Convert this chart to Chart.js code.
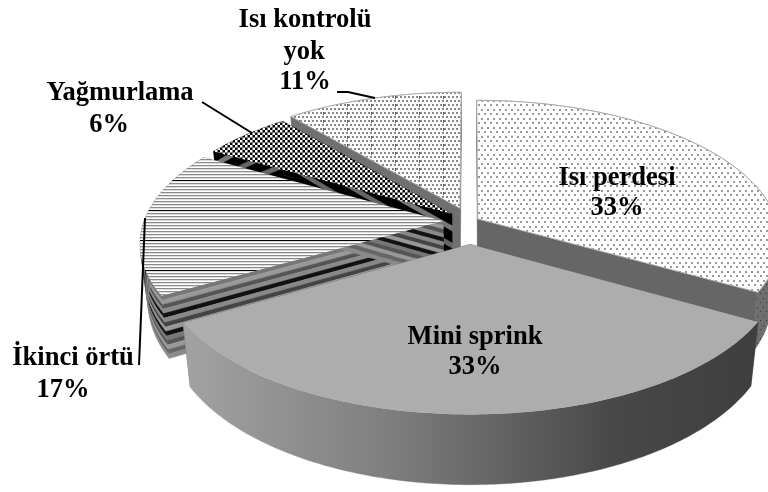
<!DOCTYPE html>
<html><head><meta charset="utf-8">
<style>html,body{margin:0;padding:0;background:#fff}canvas{display:block}</style>
<script src="https://cdn.jsdelivr.net/npm/chart.js@4/dist/chart.umd.js"></script>
</head><body><canvas id="c" width="768" height="492"></canvas>
<script>
const categories = ["Isı perdesi", "Mini sprink", "İkinci örtü", "Yağmurlama", "Isı kontrolü yok"];
const values = [33.3, 33.3, 16.7, 5.6, 11.1];
const explode = [3, 16.5, 9, 8, 10];

function tile(w, h, paint) {
  const c = document.createElement('canvas'); c.width = w; c.height = h;
  const g = c.getContext('2d'); paint(g, w, h);
  return document.createElement('canvas').getContext('2d').createPattern(c, 'repeat');
}
const dotsTop = tile(12, 9, (g, w, h) => {
  g.fillStyle = '#fff'; g.fillRect(0, 0, w, h);
  g.fillStyle = '#999';
  [[1, 1], [7, 1], [4, 5], [10, 5]].forEach(p => g.fillRect(p[0], p[1], 2, 2));
});
const dotsDark = tile(12, 9, (g, w, h) => {
  g.fillStyle = '#6e6e6e'; g.fillRect(0, 0, w, h);
  g.fillStyle = '#333';
  [[1, 1], [7, 1], [4, 5], [10, 5]].forEach(p => g.fillRect(p[0], p[1], 1, 1));
});
const stripes = tile(8, 30, (g, w, h) => {
  for (let i = 0; i < h; i++) {
    const k = i % 3;
    g.fillStyle = i === 0 ? '#000' : k === 0 ? '#8a8a8a' : k === 1 ? '#ddd' : '#fff';
    g.fillRect(0, i, w, 1);
  }
});
const checks = tile(5, 5, (g, w, h) => {
  g.fillStyle = '#000'; g.fillRect(0, 0, w, h);
  g.fillStyle = '#fff'; g.fillRect(0, 0, 2.5, 2.5); g.fillRect(2.5, 2.5, 2.5, 2.5);
});
const dotsDense = tile(24, 8, (g, w, h) => {
  g.fillStyle = '#fff'; g.fillRect(0, 0, w, h);
  g.fillStyle = '#888';
  for (let x = 0; x < w; x += 4) {
    g.fillRect(x, 0, 2, 2); g.fillRect(x + 2, 4, 2, 2);
  }
  g.fillStyle = '#555'; g.fillRect(11, 0, 1, 3);
});

// Scene settings for the tilted view of the unit circle
const view = { cx: 470, cy: 221, rx: 299, ry: 137, p: 0.15, depth: 58, shrink: 0.025 };
function proj(u, v, z) {
  const w = 1 - view.p * v;
  return [view.cx + view.rx * u / w * (1 - view.shrink * z), view.cy + view.ry * v / w + z * view.depth / w];
}
// Painter's order and wall styles per slice index
const paintOrder = [0, 4, 3, 2, 1];
const bandsIkinci = ['#777', '#999', '#555', '#8a8a8a', '#111', '#888', '#444', '#999', '#111', '#777', '#555', '#999', '#666', '#8a8a8a'];
const bandsYag = ['#000', '#000', '#777', '#000', '#000', '#666', '#000', '#000', '#666', '#000'];
const wallStyle = [
  { radial: ['#666'], outer: () => dotsDark },
  { radial: ['#666'], outer: (ctx) => {
      const g = ctx.createLinearGradient(185, 0, 757, 0);
      g.addColorStop(0, '#a2a2a2'); g.addColorStop(0.35, '#7f7f7f'); g.addColorStop(0.75, '#484848'); g.addColorStop(1, '#3e3e3e');
      return g; } },
  { radial: bandsIkinci, outer: null },
  { radial: bandsYag, outer: null },
  { radial: ['#707070'], outer: () => '#707070' }
];

function band(ctx, pts, z0, z1, fill) {
  ctx.beginPath();
  pts.forEach((q, i) => { const a = proj(q[0], q[1], z0); i ? ctx.lineTo(a[0], a[1]) : ctx.moveTo(a[0], a[1]); });
  for (let i = pts.length - 1; i >= 0; i--) { const a = proj(pts[i][0], pts[i][1], z1); ctx.lineTo(a[0], a[1]); }
  ctx.closePath(); ctx.fillStyle = fill; ctx.fill();
  ctx.strokeStyle = fill; ctx.lineWidth = 0.4; ctx.stroke();
}

const scene3d = {
  id: 'scene3d',
  beforeDatasetsDraw(chart) {
    const ctx = chart.ctx, arcs = chart.getDatasetMeta(0).data;
    paintOrder.forEach(i => {
      const a = arcs[i], s = a.startAngle, e = a.endAngle, m = (s + e) / 2;
      const d = a.options.offset / 100, ox = Math.cos(m) * d, oy = Math.sin(m) * d;
      const arcPts = [];
      for (let k = 0; k <= 160; k++) {
        const t = s + (e - s) * k / 160;
        arcPts.push([ox + Math.cos(t), oy + Math.sin(t)]);
      }
      const st = wallStyle[i];
      const wall = (pts, bands) => bands.forEach((c, b) => band(ctx, pts, b / bands.length, (b + 1) / bands.length, c));
      wall([[ox, oy], arcPts[0]], st.radial);
      wall([[ox, oy], arcPts[160]], st.radial);
      if (st.outer) band(ctx, arcPts, 0, 1, st.outer(ctx)); else wall(arcPts, st.radial);
      // Top face
      ctx.beginPath();
      const c0 = proj(ox, oy, 0); ctx.moveTo(c0[0], c0[1]);
      arcPts.forEach(q => { const p = proj(q[0], q[1], 0); ctx.lineTo(p[0], p[1]); });
      ctx.closePath();
      ctx.fillStyle = a.options.backgroundColor; ctx.fill();
      if (i === 0 || i === 4) { ctx.strokeStyle = '#aaa'; ctx.lineWidth = 1; ctx.stroke(); }
    });
    return false;
  },
  afterDraw(chart) {
    const ctx = chart.ctx;
    ctx.save();
    ctx.strokeStyle = '#000'; ctx.lineWidth = 2;
    leaderLines.forEach(l => {
      ctx.beginPath();
      l.forEach((q, i) => i ? ctx.lineTo(q[0], q[1]) : ctx.moveTo(q[0], q[1]));
      ctx.stroke();
    });
    ctx.fillStyle = '#000'; ctx.font = 'bold 26.5px "Liberation Serif"';
    ctx.textAlign = 'center'; ctx.textBaseline = 'middle';
    labelRows.forEach(r => ctx.fillText(r[0], r[1], r[2]));
    ctx.restore();
  }
};
const pct = values.map(v => Math.round(v) + "%");
const labelRows = [
  ["Isı perdesi", 617, 178], [pct[0], 617, 208],
  ["Mini sprink", 475, 337], [pct[1], 475, 367],
  ["İkinci örtü", 73, 358], [pct[2], 63, 390],
  ["Yağmurlama", 120, 93], [pct[3], 109, 125],
  ["Isı kontrolü", 305, 20], ["yok", 304, 52], [pct[4], 305, 82]
];
const leaderLines = [
  [[337, 92], [348, 92], [375, 98]],
  [[202, 102], [252, 133]],
  [[139, 365], [145, 218]]
];

new Chart(document.getElementById('c'), {
  type: 'pie',
  data: { labels: categories, datasets: [{
    data: values, offset: explode, borderWidth: 0,
    backgroundColor: [dotsTop, '#adadad', stripes, checks, dotsDense]
  }] },
  options: {
    responsive: false, animation: false, rotation: 0,
    plugins: { legend: { display: false }, tooltip: { enabled: false } }
  },
  plugins: [scene3d]
});
</script></body></html>
